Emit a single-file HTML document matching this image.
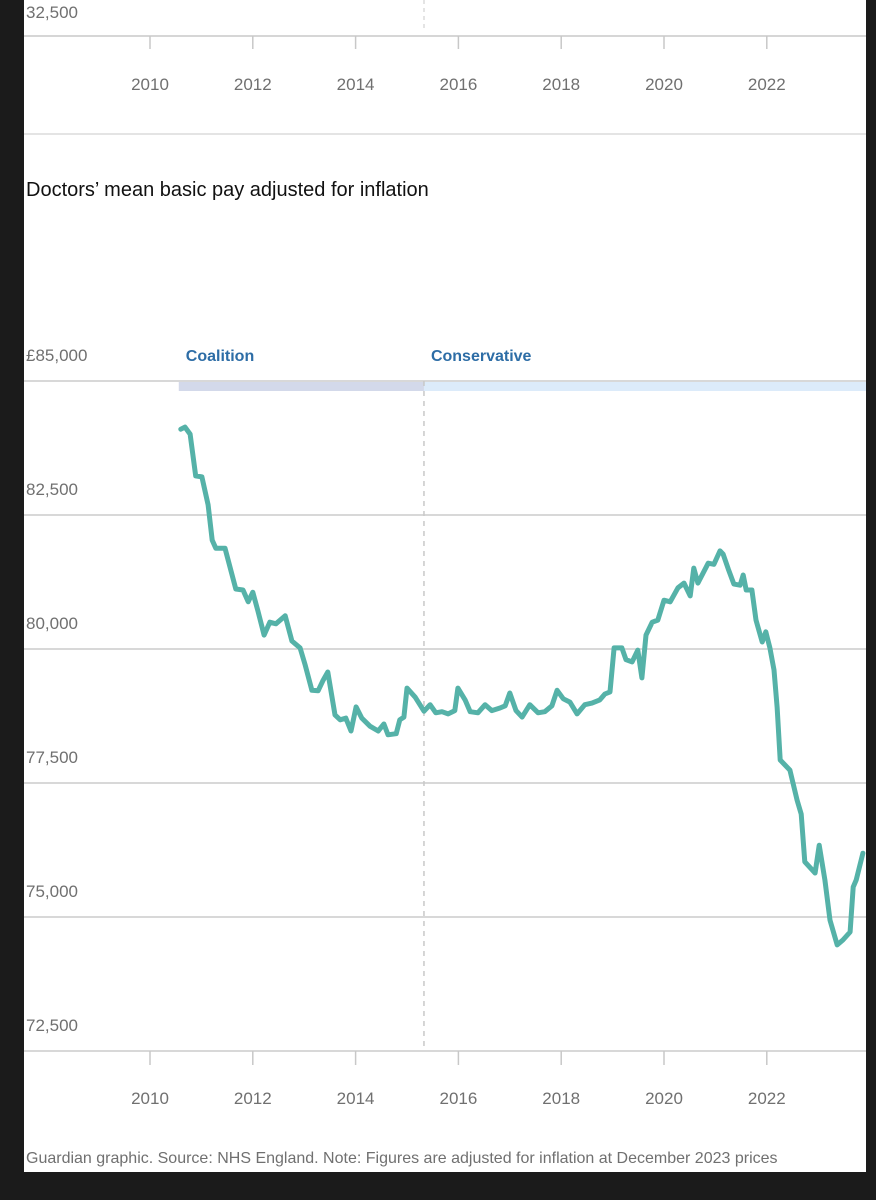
<!DOCTYPE html>
<html><head><meta charset="utf-8"><style>
html,body{margin:0;padding:0;background:#1b1b1b;width:876px;height:1200px;overflow:hidden}
svg{display:block}
text{font-family:"Liberation Sans","DejaVu Sans",sans-serif}
</style></head><body>
<svg width="876" height="1200">
<rect x="0" y="0" width="876" height="1200" fill="#1b1b1b"/>
<rect x="24" y="0" width="842" height="1172" fill="#ffffff"/>
<g id="topg">
<text x="26" y="18" font-size="17" fill="#707070">32,500</text>
<line x1="424" y1="0" x2="424" y2="32" stroke="#c8c8c8" stroke-dasharray="4,4"/>
<line x1="24" y1="36" x2="866" y2="36" stroke="#c8c8c8" stroke-width="1.5"/>
<line x1="24" y1="134" x2="866" y2="134" stroke="#dcdcdc" stroke-width="1.5"/>
</g>
<text x="26" y="196" font-size="20" fill="#111">Doctors’ mean basic pay adjusted for inflation</text>
<g id="main"></g>
<text x="26" y="1163" font-size="16" fill="#707070">Guardian graphic. Source: NHS England. Note: Figures are adjusted for inflation at December 2023 prices</text>
</svg>
<script>
const years=[2010.60,2010.68,2010.78,2010.89,2011.01,2011.13,2011.21,2011.28,2011.46,2011.67,2011.81,2011.91,2012.00,2012.10,2012.22,2012.33,2012.45,2012.63,2012.76,2012.92,2013.02,2013.15,2013.27,2013.37,2013.46,2013.60,2013.70,2013.81,2013.91,2014.01,2014.12,2014.28,2014.44,2014.55,2014.63,2014.79,2014.86,2014.94,2015.00,2015.16,2015.33,2015.45,2015.56,2015.68,2015.80,2015.93,2015.99,2016.13,2016.23,2016.38,2016.52,2016.65,2016.81,2016.91,2017.00,2017.12,2017.24,2017.39,2017.55,2017.68,2017.82,2017.92,2018.04,2018.17,2018.31,2018.46,2018.60,2018.75,2018.85,2018.95,2019.03,2019.18,2019.26,2019.38,2019.49,2019.57,2019.65,2019.77,2019.88,2020.00,2020.12,2020.27,2020.39,2020.51,2020.58,2020.66,2020.86,2020.97,2021.09,2021.15,2021.25,2021.36,2021.48,2021.54,2021.60,2021.71,2021.79,2021.91,2021.98,2022.06,2022.14,2022.20,2022.26,2022.45,2022.59,2022.67,2022.74,2022.94,2023.02,2023.13,2023.23,2023.37,2023.48,2023.62,2023.68,2023.74,2023.87];
const pay=[84100,84140,84010,83230,83210,82690,82030,81880,81880,81120,81100,80880,81060,80710,80260,80500,80470,80620,80150,80020,79700,79230,79220,79420,79570,78770,78680,78710,78470,78920,78710,78560,78470,78600,78400,78420,78680,78730,79270,79100,78840,78960,78810,78830,78790,78850,79270,79050,78830,78810,78960,78850,78900,78940,79180,78850,78730,78960,78810,78830,78940,79230,79070,79010,78790,78960,78990,79050,79160,79200,80020,80020,79800,79760,79980,79460,80260,80500,80540,80910,80880,81140,81230,80990,81510,81230,81600,81580,81830,81770,81490,81210,81190,81380,81100,81100,80540,80130,80320,80020,79610,78920,77930,77740,77180,76920,76030,75820,76340,75690,74940,74480,74570,74720,75560,75690,76190];
const yTicks=[85000,82500,80000,77500,75000,72500];
const yTickLabels=["£85,000","82,500","80,000","77,500","75,000","72,500"];
const xTicks=[2010,2012,2014,2016,2018,2020,2022];
const periods=["Coalition","Conservative"];
const periodStart=[2010.56,2015.33];
const periodEnd=[2015.33,2024.2];
const electionYear=2015.33;

const NS="http://www.w3.org/2000/svg";
const X=y=>150+(y-2010)*51.4;
const Y=v=>381+(85000-v)*134/2500;
const svgEl=document.querySelector('svg');
const mainG=document.getElementById('main');
const topG=document.getElementById('topg');
function mk(tag,attrs,parent){const e=document.createElementNS(NS,tag);for(const k in attrs)e.setAttribute(k,attrs[k]);(parent||mainG).appendChild(e);return e;}

xTicks.forEach(t=>{
  const l=mk('line',{x1:X(t),y1:36,x2:X(t),y2:49,stroke:'#c8c8c8','stroke-width':1.5},topG);
  
  
  const tx=mk('text',{x:X(t),y:90,'font-size':17,fill:'#707070','text-anchor':'middle'},topG);
  tx.textContent=t;
  
  
});

yTicks.forEach((v,i)=>{
  const l=mk('line',{x1:24,y1:Y(v),x2:866,y2:Y(v),stroke:'#cccccc','stroke-width':1.5});
  
  
  const t=mk('text',{x:26,y:Y(v)-20,'font-size':17,fill:'#707070'});
  t.textContent=yTickLabels[i];
  
  
});
const bandColors=['#d3d9ea','#dcebfa'];
periods.forEach((p,i)=>{
  const r=mk('rect',{x:X(periodStart[i]),y:Y(85000)+1,width:Math.min(866,X(periodEnd[i]))-X(periodStart[i]),height:9,fill:bandColors[i]});
  
  
  const t=mk('text',{x:X(periodStart[i])+7,y:Y(85000)-20,'font-size':16,'font-weight':'bold',fill:'#2d6da6'});
  t.textContent=p;
  
  
});
const el=mk('line',{x1:X(electionYear),y1:Y(85000),x2:X(electionYear),y2:Y(72500),stroke:'#c8c8c8','stroke-dasharray':'5,5','stroke-width':1.5});


xTicks.forEach(t=>{
  const l=mk('line',{x1:X(t),y1:Y(72500),x2:X(t),y2:Y(72500)+14,stroke:'#c8c8c8','stroke-width':1.5});
  
  
  const tx=mk('text',{x:X(t),y:1104,'font-size':17,fill:'#707070','text-anchor':'middle'});
  tx.textContent=t;
  
  
});
const d=years.map((y,i)=>(i?'L':'M')+X(y).toFixed(1)+','+Y(pay[i]).toFixed(1)).join('');
const path=mk('path',{d:d,fill:'none',stroke:'#55b2a8','stroke-width':5,'stroke-linejoin':'round','stroke-linecap':'round'});


const strip=mk('rect',{x:866,y:0,width:10,height:1200,fill:'#1b1b1b'},svgEl);


</script>
</body></html>
